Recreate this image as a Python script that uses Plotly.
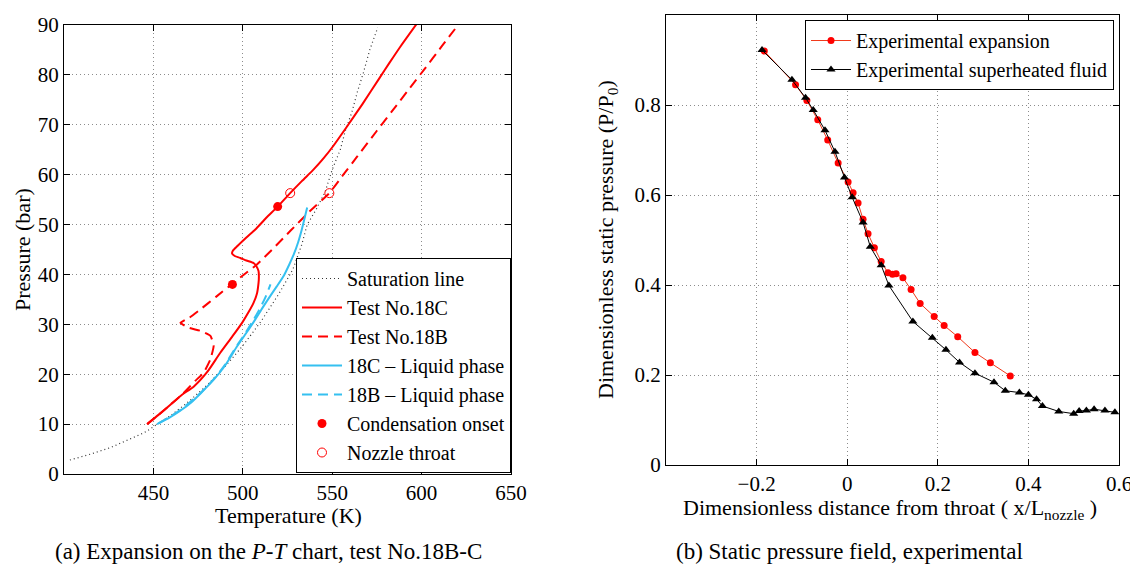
import plotly.graph_objects as go

# ---------------- Left chart data (P-T chart) ----------------
sat_T = [403.3, 415, 426, 439, 445, 451, 460, 470, 480, 490, 500, 510, 520, 528, 533, 536, 541, 546, 550, 554.5, 557.5, 561, 564, 567.5, 571, 575.5]
sat_P = [2.8, 4.0, 5.3, 7.3, 8.3, 9.7, 11.8, 14.6, 17.8, 21.5, 25.7, 30.5, 36, 41, 46, 50, 53, 56.5, 61, 65, 69, 72.5, 76.5, 80.5, 85, 89.5]

c18_T = [446.5, 453, 459.5, 466, 472.5, 480, 487.4, 494, 499.6, 503, 506, 508, 508.8, 509, 508.8, 507.5, 506, 502, 498.6, 495.5, 494, 494.5, 497, 502, 507, 513, 519.5, 526.5, 533, 539.5, 545, 550.7, 558, 567, 576.7, 582, 588, 597.2]
c18_P = [10, 11.9, 13.9, 15.9, 17.5, 20.4, 24.3, 27.5, 30.3, 32.3, 34.3, 36.3, 38.3, 39.6, 40.7, 41.7, 42.3, 42.8, 43.3, 43.7, 44.2, 44.8, 45.7, 47.4, 49, 51.3, 53.6, 56.3, 58.7, 61, 63.2, 65.8, 69.5, 74.2, 79.5, 82.4, 85.6, 90.2]

b18_T = [446.5, 453, 459.5, 466, 473.5, 478.1, 481.9, 483.7, 481.9, 476.3, 470, 465.1, 470, 476.3, 485, 494, 500, 507.9, 517, 526.5, 537, 548.4, 556, 563.7, 575, 586, 593.5, 601.5, 611, 620.4]
b18_P = [10, 11.9, 13.9, 15.9, 18.7, 20.3, 23, 25.7, 27.7, 28.7, 29.3, 30.3, 31.3, 33, 35.5, 38.1, 39.8, 42, 45.2, 48.7, 52.5, 56.3, 59.9, 63.5, 68.8, 73.9, 77.4, 81.1, 85.6, 90]

liqC_T = [452, 459, 465, 471, 476.5, 484, 490, 497, 502, 507, 511, 515.4, 519, 523, 526, 528.5, 531, 533, 536]
liqC_P = [10, 11.3, 12.7, 14.3, 16.2, 19, 21.7, 25.7, 28.3, 31, 33.3, 35.7, 37.6, 39.8, 42, 44, 46.5, 49, 53.4]

liqB_T = [453, 465, 476.5, 484, 490, 497, 501, 505, 509, 512.5, 515.5]
liqB_P = [10.2, 12.8, 16.3, 19.1, 21.9, 25.9, 28.0, 30.3, 32.8, 35.3, 38]

onset_T = [519.5, 494.2]
onset_P = [53.6, 38.0]
throat_T = [526.5, 548.4]
throat_P = [56.3, 56.3]

left_xticks = [450, 500, 550, 600, 650]
left_yticks = [0, 10, 20, 30, 40, 50, 60, 70, 80, 90]

# ---------------- Right chart data (static pressure) ----------------
exp_x = [-0.183, -0.114, -0.089, -0.065, -0.043, -0.020, 0.002, 0.013, 0.024, 0.035, 0.046, 0.060, 0.075, 0.090, 0.100, 0.108, 0.123, 0.141, 0.161, 0.192, 0.214, 0.244, 0.282, 0.316, 0.360]
exp_y = [0.920, 0.845, 0.810, 0.767, 0.722, 0.671, 0.629, 0.605, 0.582, 0.546, 0.514, 0.483, 0.452, 0.427, 0.424, 0.425, 0.416, 0.390, 0.359, 0.330, 0.310, 0.285, 0.250, 0.227, 0.198]

sup_x = [-0.188, -0.122, -0.092, -0.075, -0.049, -0.027, -0.006, 0.011, 0.035, 0.051, 0.075, 0.092, 0.145, 0.188, 0.218, 0.248, 0.282, 0.324, 0.349, 0.380, 0.400, 0.418, 0.431, 0.467, 0.500, 0.512, 0.528, 0.545, 0.569, 0.591]
sup_y = [0.922, 0.856, 0.816, 0.789, 0.744, 0.696, 0.639, 0.595, 0.539, 0.485, 0.444, 0.399, 0.319, 0.283, 0.256, 0.228, 0.204, 0.184, 0.165, 0.161, 0.156, 0.146, 0.131, 0.119, 0.114, 0.120, 0.121, 0.124, 0.121, 0.117]

right_xticks = [-0.2, 0, 0.2, 0.4, 0.6]
right_yticks = [0, 0.2, 0.4, 0.6, 0.8, 1]

# ---------------- Styling ----------------
OFF = 8                 # default page margin of the html body
W, H = 1130, 560
SERIF = "Liberation Serif, Times New Roman, Times, serif"
RED = "#ff0000"
CYAN = "#35c0f0"


def px_x(p):
    return (p - OFF) / W


def px_y(p):
    return 1 - (p - OFF) / H


def axis(**kw):
    d = dict(showline=True, linecolor="black", linewidth=1.3, mirror="allticks",
             ticks="inside", ticklen=6, tickcolor="black", tickwidth=1,
             showgrid=True, gridcolor="#8c8c8c", griddash="1px,3px", gridwidth=1,
             zeroline=False, automargin=False,
             tickfont=dict(family=SERIF, size=21, color="black"))
    d.update(kw)
    return d


fig = go.Figure()

# Left chart traces
fig.add_trace(go.Scatter(x=sat_T, y=sat_P, mode="lines", name="Saturation line",
                         line=dict(color="#333333", width=1.2, dash="1px,3px"),
                         xaxis="x", yaxis="y", legend="legend"))
fig.add_trace(go.Scatter(x=c18_T, y=c18_P, mode="lines", name="Test No.18C",
                         line=dict(color=RED, width=2, shape="spline", smoothing=0.6),
                         xaxis="x", yaxis="y", legend="legend"))
fig.add_trace(go.Scatter(x=b18_T, y=b18_P, mode="lines", name="Test No.18B",
                         line=dict(color=RED, width=2, dash="10px,6px", shape="spline", smoothing=0.4),
                         xaxis="x", yaxis="y", legend="legend"))
fig.add_trace(go.Scatter(x=liqC_T, y=liqC_P, mode="lines", name="18C \u2013 Liquid phase",
                         line=dict(color=CYAN, width=2, shape="spline", smoothing=0.6),
                         xaxis="x", yaxis="y", legend="legend"))
fig.add_trace(go.Scatter(x=liqB_T, y=liqB_P, mode="lines", name="18B \u2013 Liquid phase",
                         line=dict(color=CYAN, width=2, dash="10px,6px", shape="spline", smoothing=0.6),
                         xaxis="x", yaxis="y", legend="legend"))
fig.add_trace(go.Scatter(x=onset_T, y=onset_P, mode="markers", name="Condensation onset",
                         marker=dict(color=RED, size=9, symbol="circle"),
                         xaxis="x", yaxis="y", legend="legend"))
fig.add_trace(go.Scatter(x=throat_T, y=throat_P, mode="markers", name="Nozzle throat",
                         marker=dict(color=RED, size=9, symbol="circle-open", line=dict(width=1, color=RED)),
                         xaxis="x", yaxis="y", legend="legend"))

# Right chart traces
fig.add_trace(go.Scatter(x=exp_x, y=exp_y, mode="lines+markers", name="Experimental expansion",
                         line=dict(color="#f03a1c", width=1),
                         marker=dict(color=RED, size=7, symbol="circle"),
                         xaxis="x2", yaxis="y2", legend="legend2"))
fig.add_trace(go.Scatter(x=sup_x, y=sup_y, mode="lines+markers", name="Experimental superheated fluid",
                         line=dict(color="black", width=1),
                         marker=dict(color="black", size=8, symbol="triangle-up"),
                         xaxis="x2", yaxis="y2", legend="legend2"))

fig.update_layout(
    width=W, height=H,
    margin=dict(l=0, r=0, t=0, b=0),
    paper_bgcolor="white", plot_bgcolor="white",
    font=dict(family=SERIF, size=21, color="black"),
    showlegend=True,
    xaxis=axis(domain=[px_x(64), px_x(511)], range=[400, 650], tickvals=left_xticks, anchor="y"),
    yaxis=axis(domain=[px_y(474), px_y(25)], range=[0, 90], tickvals=left_yticks, anchor="x"),
    xaxis2=axis(domain=[px_x(666), px_x(1119)], range=[-0.4, 0.6], tickvals=right_xticks, anchor="y2"),
    yaxis2=axis(domain=[px_y(465), px_y(15)], range=[0, 1], tickvals=right_yticks, anchor="x2"),
    legend=dict(x=px_x(511), y=px_y(473), xanchor="right", yanchor="bottom",
                bgcolor="white", bordercolor="black", borderwidth=1, itemwidth=40,
                font=dict(family=SERIF, size=20, color="black"), tracegroupgap=0),
    legend2=dict(x=px_x(1114), y=px_y(20), xanchor="right", yanchor="top",
                 bgcolor="white", bordercolor="black", borderwidth=1, itemwidth=40,
                 font=dict(family=SERIF, size=20, color="black"), tracegroupgap=0),
)

ann = [
    dict(text="Pressure (bar)", x=px_x(22), y=px_y(250), textangle=-90, size=22),
    dict(text="Temperature (K)", x=px_x(288), y=px_y(515), textangle=0, size=22),
    dict(text="Dimensionless static pressure (P/P<sub>0</sub>)", x=px_x(607), y=px_y(240), textangle=-90, size=22),
    dict(text="Dimensionless distance from throat ( x/L<sub>nozzle</sub> )", x=px_x(890), y=px_y(509), textangle=0, size=22),
    dict(text="(a) Expansion on the <i>P</i>-<i>T</i> chart, test No.18B-C", x=px_x(268), y=px_y(551), textangle=0, size=23),
    dict(text="(b) Static pressure field, experimental", x=px_x(849), y=px_y(551), textangle=0, size=23),
]
for a in ann:
    fig.add_annotation(text=a["text"], x=a["x"], y=a["y"], xref="paper", yref="paper",
                       xanchor="center", yanchor="middle", textangle=a["textangle"],
                       showarrow=False, font=dict(family=SERIF, size=a["size"], color="black"))

fig.write_html("out.html")
